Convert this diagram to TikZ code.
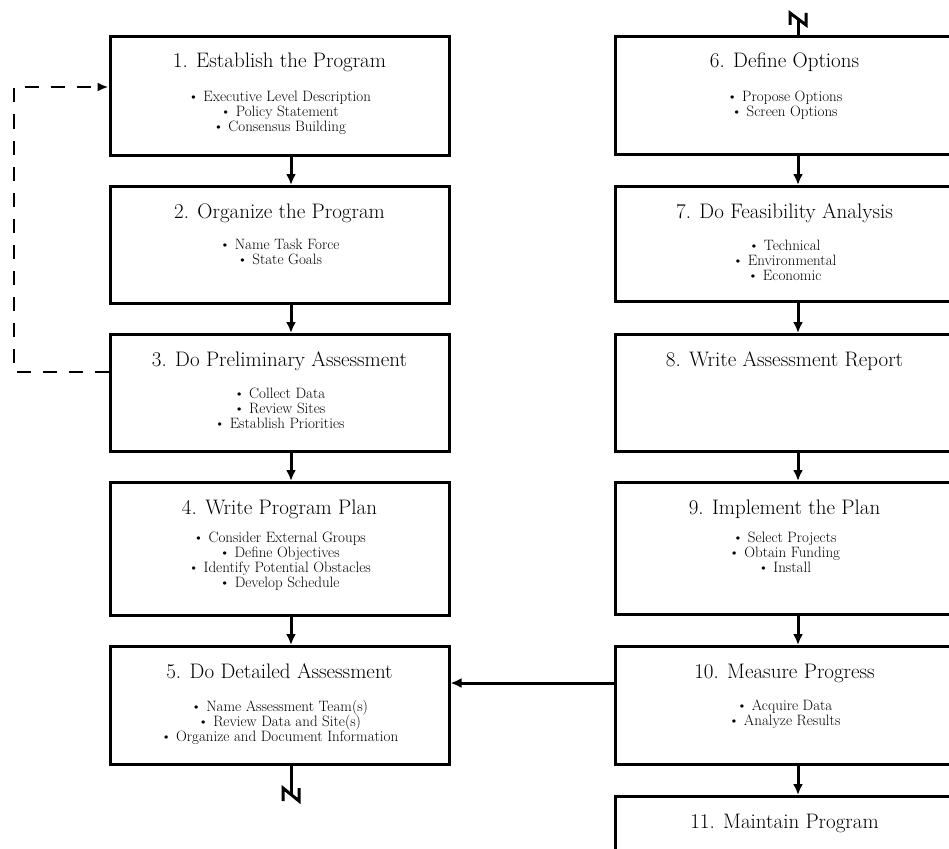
\documentclass[tikz,border=0pt]{standalone}
\usetikzlibrary{positioning,calc,arrows.meta}
\newcommand\itemfont{\fontsize{15}{15}\selectfont\lineskiplimit=-20pt\relax}
\begin{document}
\begin{tikzpicture}[x=1pt,y=-1pt]
        \tikzstyle{stage}=[draw, line width=3pt, anchor=north, minimum width=339pt, inner sep=0pt]
        \tikzstyle{ttl}=[anchor=base, inner sep=0pt, font=\fontsize{21}{23}\selectfont]
        \tikzstyle{items}=[anchor=north, inner sep=0pt, align=center, font=\itemfont]
        \tikzstyle{flow}=[line width=3pt, -{Latex[length=11pt,width=10pt]}]
        \tikzstyle{brk}=[line width=3pt]
        \tikzstyle{back}=[line width=2.4pt, dash pattern=on 14pt off 12pt, -{Latex[length=11pt,width=9pt]}]

        \useasboundingbox (0,0) rectangle (949,848);
        \clip (0,0) rectangle (949,848);

        % left column
        \node[stage, minimum height=119pt] (s1) at (279.5,35) {};
        \node[stage, minimum height=117pt] (s2) at (279.5,185) {};
        \node[stage, minimum height=117pt] (s3) at (279.5,333) {};
        \node[stage, minimum height=133pt] (s4) at (279.5,481) {};
        \node[stage, minimum height=118pt] (s5) at (279.5,645) {};

        % right column
        \node[stage, minimum height=118pt] (s6) at (784.5,35) {};
        \node[stage, minimum height=115pt] (s7) at (784.5,185) {};
        \node[stage, minimum height=117pt] (s8) at (784.5,333) {};
        \node[stage, minimum height=132pt] (s9) at (784.5,481) {};
        \node[stage, minimum height=118pt] (s10) at (784.5,645) {};
        \node[stage, minimum height=118pt] (s11) at (784.5,795) {};

        % titles
        \node[ttl] (t1) at ($(s1.north)+(0,33)$) {1. Establish the Program};
        \node[ttl] (t2) at ($(s2.north)+(0,33)$) {2. Organize the Program};
        \node[ttl] (t3) at ($(s3.north)+(0,33)$) {3. Do Preliminary Assessment};
        \node[ttl] (t4) at ($(s4.north)+(0,33)$) {4. Write Program Plan};
        \node[ttl] (t5) at ($(s5.north)+(0,33)$) {5. Do Detailed Assessment};
        \node[ttl] (t6) at ($(s6.north)+(0,33)$) {6. Define Options};
        \node[ttl] (t7) at ($(s7.north)+(0,33)$) {7. Do Feasibility Analysis};
        \node[ttl] (t8) at ($(s8.north)+(0,33)$) {8. Write Assessment Report};
        \node[ttl] (t9) at ($(s9.north)+(0,33)$) {9. Implement the Plan};
        \node[ttl] (t10) at ($(s10.north)+(0,33)$) {10. Measure Progress};
        \node[ttl] (t11) at ($(s11.north)+(0,33)$) {11. Maintain Program};

        % task lists
        \node[items] (l1) at ($(s1.north)+(0,56)$) {\textbullet{} Executive Level Description\\ \textbullet{} Policy Statement\\ \textbullet{} Consensus Building};
        \node[items] (l2) at ($(s2.north)+(0,54)$) {\textbullet{} Name Task Force\\ \textbullet{} State Goals};
        \node[items] (l3) at ($(s3.north)+(0,55)$) {\textbullet{} Collect Data\\ \textbullet{} Review Sites\\ \textbullet{} Establish Priorities};
        \node[items] (l4) at ($(s4.north)+(0,51)$) {\textbullet{} Consider External Groups\\ \textbullet{} Define Objectives\\ \textbullet{} Identify Potential Obstacles\\ \textbullet{} Develop Schedule};
        \node[items] (l5) at ($(s5.north)+(0,55)$) {\textbullet{} Name Assessment Team(s)\\ \textbullet{} Review Data and Site(s)\\ \textbullet{} Organize and Document Information};
        \node[items] (l6) at ($(s6.north)+(0,56)$) {\textbullet{} Propose Options\\ \textbullet{} Screen Options};
        \node[items] (l7) at ($(s7.north)+(0,55)$) {\textbullet{} Technical\\ \textbullet{} Environmental\\ \textbullet{} Economic};
        \node[items] (l9) at ($(s9.north)+(0,51)$) {\textbullet{} Select Projects\\ \textbullet{} Obtain Funding\\ \textbullet{} Install};
        \node[items] (l10) at ($(s10.north)+(0,55)$) {\textbullet{} Acquire Data\\ \textbullet{} Analyze Results};

        % flow arrows
        \coordinate (lx) at (291,0);
        \coordinate (rx) at (798,0);
        \draw[flow] (s1.south -| lx) -- (s2.north -| lx);
        \draw[flow] (s2.south -| lx) -- (s3.north -| lx);
        \draw[flow] (s3.south -| lx) -- (s4.north -| lx);
        \draw[flow] (s4.south -| lx) -- (s5.north -| lx);
        \draw[flow] (s6.south -| rx) -- (s7.north -| rx);
        \draw[flow] (s7.south -| rx) -- (s8.north -| rx);
        \draw[flow] (s8.south -| rx) -- (s9.north -| rx);
        \draw[flow] (s9.south -| rx) -- (s10.north -| rx);
        \draw[flow] (s10.south -| rx) -- (s11.north -| rx);

        \coordinate (h10) at ($(s10.north west)+(0,38)$);
        \draw[flow] (h10) -- (s5.east |- h10);

        % continuation marks
        \coordinate (b5) at (291,794);
        \draw[brk] (s5.south -| lx) -- (b5);
        \draw[brk] (283,801) -- (283,788) -- (299,801) -- (299,788);
        \coordinate (b6) at (798,19);
        \draw[brk] (s6.north -| rx) -- (b6);
        \draw[brk] (790,25) -- (790,13) -- (806,25) -- (806,13);

        % feedback loop
        \coordinate (d3) at ($(s3.north west)+(0,39)$);
        \coordinate (d1) at ($(s1.north west)+(0,52)$);
        \draw[back] (d3) -- (14,0 |- d3) -- (14,0 |- d1) -- (d1);

    \end{tikzpicture}
\end{document}
